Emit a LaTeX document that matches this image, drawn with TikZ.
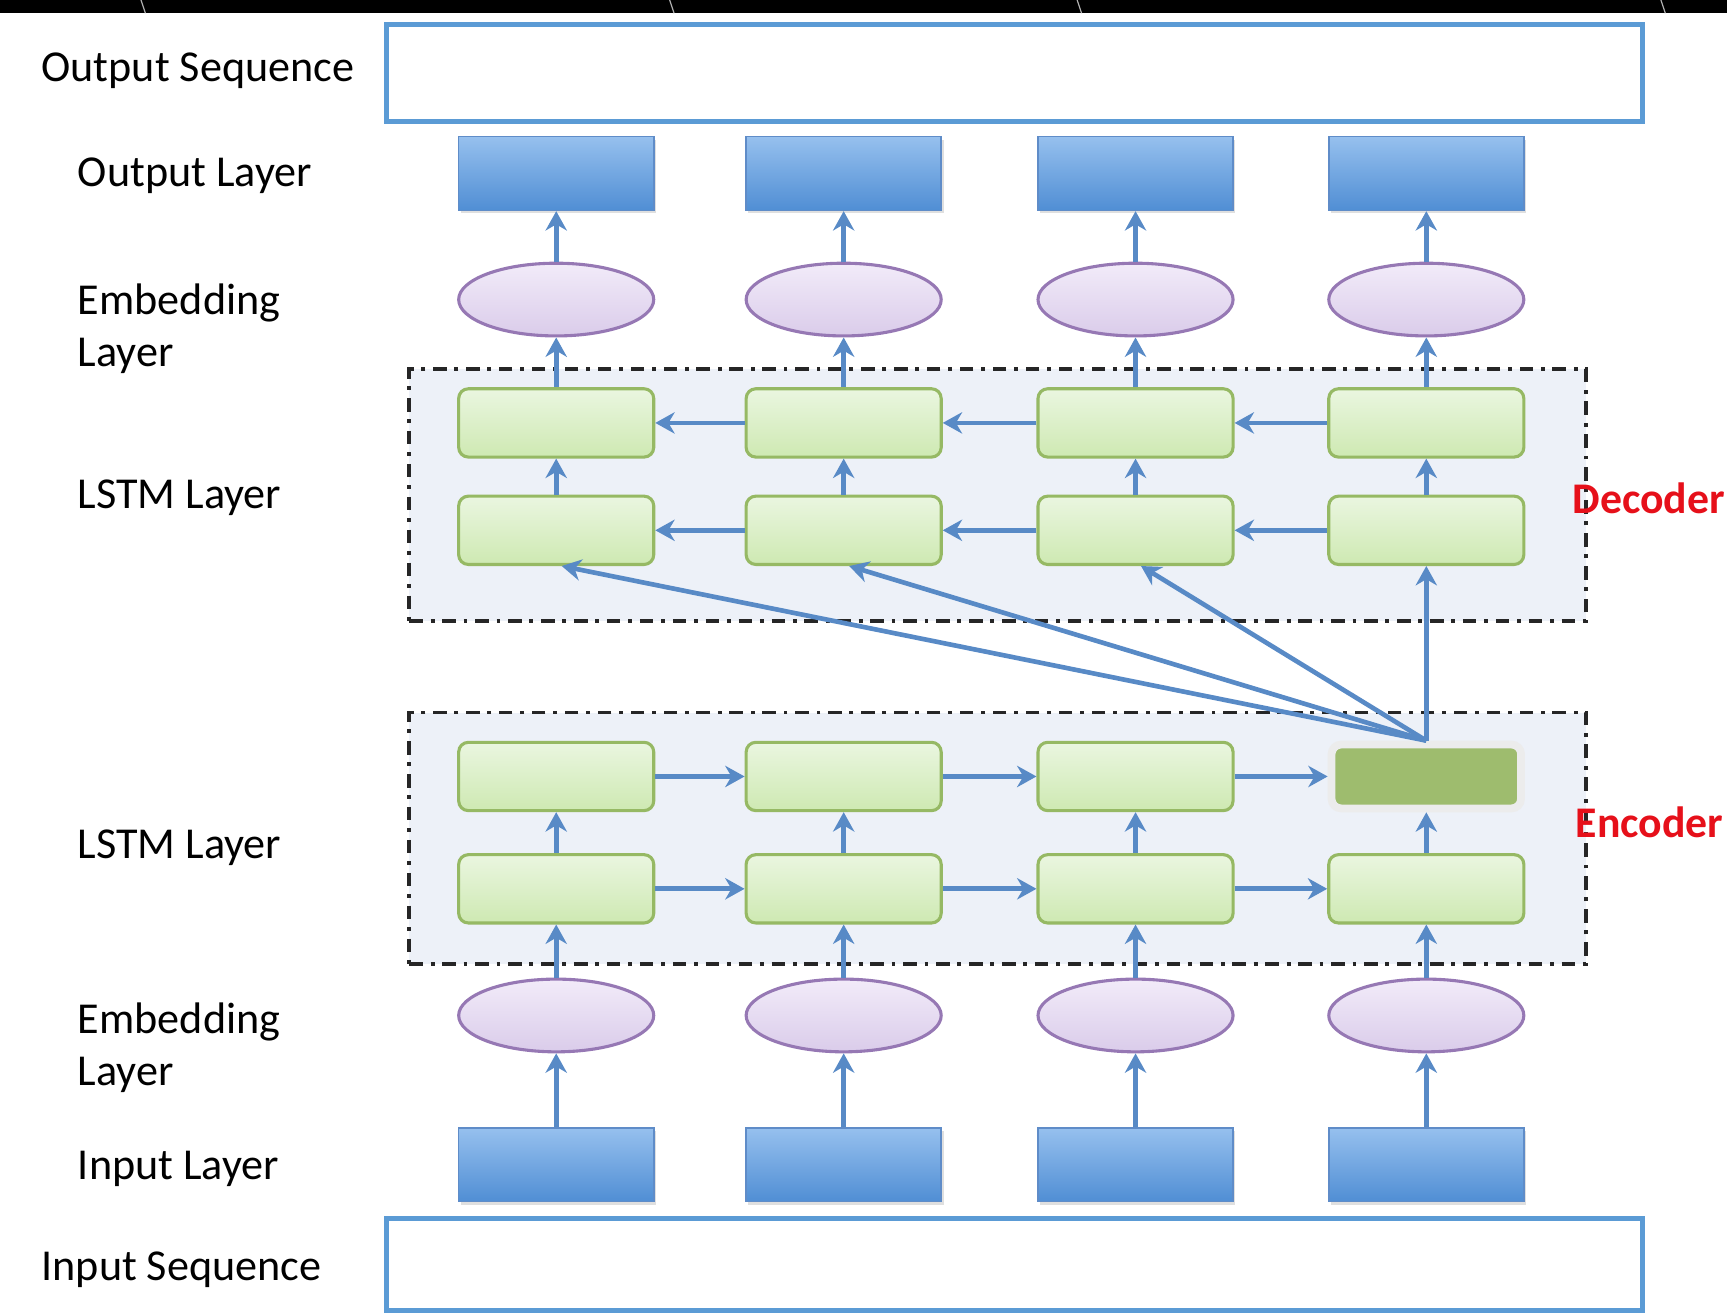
\documentclass[tikz,border=0pt]{standalone}
\usepackage{fontspec}
\setmainfont{Carlito}
\usepackage{xcolor}
\usepackage{tikz}
\usetikzlibrary{calc,arrows.meta,shapes.geometric,shadows,positioning}

\definecolor{seqblue}{RGB}{91,155,213}
\definecolor{boxtop}{RGB}{150,192,238}
\definecolor{boxbot}{RGB}{80,142,212}
\definecolor{boxline}{RGB}{95,140,200}
\definecolor{embtop}{RGB}{242,235,249}
\definecolor{embbot}{RGB}{218,204,234}
\definecolor{embline}{RGB}{150,120,180}
\definecolor{lstmtop}{RGB}{234,246,224}
\definecolor{lstmbot}{RGB}{206,233,178}
\definecolor{lstmline}{RGB}{150,185,100}
\definecolor{statefill}{RGB}{158,188,110}
\definecolor{regionfill}{RGB}{237,241,248}
\definecolor{arrowblue}{RGB}{88,138,198}
\definecolor{labelred}{RGB}{230,16,26}

\begin{document}
\begin{tikzpicture}[x=0.01cm, y=-0.01cm,
    seqbox/.style={draw=seqblue, line width=1.3pt, fill=white, minimum width=11.4cm, inner sep=0},
    iobox/.style={rectangle, top color=boxtop, bottom color=boxbot, draw=boxline, line width=0.4pt,
        minimum width=1.77cm, minimum height=0.67cm, inner sep=0,
        drop shadow={opacity=0.25, shadow xshift=0.6pt, shadow yshift=-0.8pt}},
    embnode/.style={ellipse, top color=embtop, bottom color=embbot, draw=embline, line width=0.8pt,
        minimum width=1.77cm, minimum height=0.66cm, inner sep=0},
    lstmnode/.style={rectangle, rounded corners=2.5pt, top color=lstmtop, bottom color=lstmbot,
        draw=lstmline, line width=0.8pt, minimum width=1.77cm, minimum height=0.62cm, inner sep=0},
    statenode/.style={rectangle, rounded corners=2.5pt, fill=statefill, draw=gray!15, line width=2pt,
        minimum width=1.72cm, minimum height=0.58cm, inner sep=0},
    region/.style={rectangle, fill=regionfill, draw=black!85, line width=1pt,
        dash pattern=on 3.5pt off 2pt on 1pt off 2pt,
        minimum width=10.68cm, minimum height=2.28cm, inner sep=0},
    flow/.style={-{Stealth[length=5pt, width=5.5pt, inset=1.6pt]}, draw=arrowblue, line width=1.2pt},
    layerlabel/.style={anchor=west, align=left, inner sep=0, font={\fontsize{11.4}{13.5}\selectfont}},
    partlabel/.style={anchor=west, inner sep=0, text=labelred, font={\fontsize{11.3}{13.5}\selectfont\bfseries}}
]
\useasboundingbox (0,0) rectangle (1568,1192);

% Dark strip at the top
\fill[black] (0,0) rectangle (1568,12);
\foreach \x in {128,608,978,1508} {
    \draw[gray!60, line width=0.3pt] (\x,0) -- (\x+4,12);
}

% Sequence boxes
\node[seqbox, minimum height=0.88cm] (outseq) at (921,66) {};
\node[seqbox, minimum height=0.84cm] (inseq) at (921,1148) {};

% Decoder and encoder areas
\node[region] (decarea) at (906,449.5) {};
\node[region] (encarea) at (906,761) {};

% Layer labels
\node[layerlabel] (lbl-outseq) at (37,64) {Output Sequence};
\node[layerlabel] (lbl-out) at (70,160) {Output Layer};
\node[layerlabel] (lbl-embt) at (70,298.5) {Embedding\\Layer};
\node[layerlabel] (lbl-dec) at (70,452) {LSTM Layer};
\node[layerlabel] (lbl-enc) at (70,770) {LSTM Layer};
\node[layerlabel] (lbl-embb) at (70,951.5) {Embedding\\Layer};
\node[layerlabel] (lbl-in) at (70,1061) {Input Layer};
\node[layerlabel] (lbl-inseq) at (37,1153) {Input Sequence};

\node[partlabel] (decoder) at (1427,452) {Decoder};
\node[partlabel] (encoder) at (1430,747) {Encoder};

% Columns of units
\foreach \i/\x in {1/505,2/766,3/1031,4/1295} {
    \node[iobox] (out-\i) at (\x,157.5) {};
    \node[embnode] (et-\i) at (\x,272) {};
    \node[lstmnode] (d1-\i) at (\x,384) {};
    \node[lstmnode] (d2-\i) at (\x,481.5) {};
    \node[lstmnode] (e2-\i) at (\x,807) {};
    \node[embnode] (eb-\i) at (\x,922) {};
    \node[iobox] (in-\i) at (\x,1057.5) {};
}
\foreach \i/\x in {1/505,2/766,3/1031} {
    \node[lstmnode] (e1-\i) at (\x,705) {};
}
% Final encoder state
\node[statenode] (e1-4) at (1295,705) {};

% Vertical flow
\foreach \i in {1,...,4} {
    \draw[flow] (in-\i) -- (eb-\i);
    \draw[flow] (eb-\i) -- (e2-\i);
    \draw[flow] (e2-\i) -- (e1-\i);
    \draw[flow] (d2-\i) -- (d1-\i);
    \draw[flow] (d1-\i) -- (et-\i);
    \draw[flow] (et-\i) -- (out-\i);
}

% Recurrent connections
\foreach \i/\j in {1/2,2/3,3/4} {
    \draw[flow] (e1-\i) -- (e1-\j);
    \draw[flow] (e2-\i) -- (e2-\j);
    \draw[flow] (d1-\j) -- (d1-\i);
    \draw[flow] (d2-\j) -- (d2-\i);
}

% Context vector into the decoder
\foreach \i in {1,2,3} {
    \draw[flow] (e1-4.north) -- ($(d2-\i.south)+(5,0)$);
}
\draw[flow] (e1-4.north) -- (d2-4.south);

\end{tikzpicture}
\end{document}
